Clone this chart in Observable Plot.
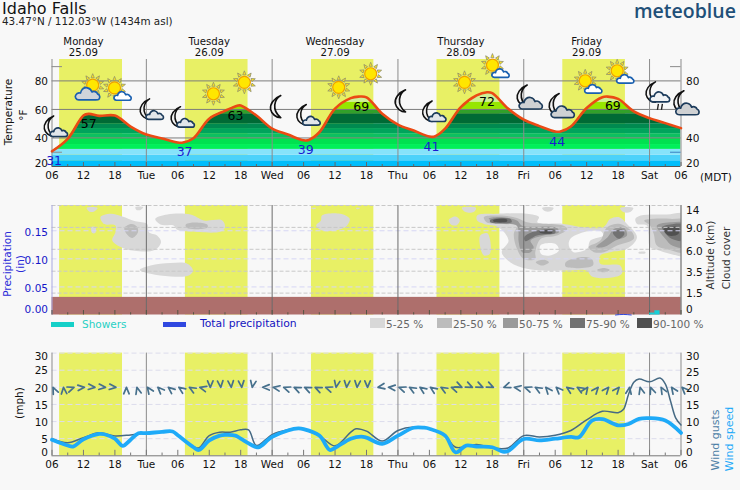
<!DOCTYPE html>
<html><head><meta charset="utf-8">
<script src="https://cdn.jsdelivr.net/npm/d3@7"></script>
<script src="https://cdn.jsdelivr.net/npm/@observablehq/plot@0.6"></script>
<style>
html,body{margin:0;padding:0;background:#f8f8f8;width:740px;height:490px;overflow:hidden;font-family:"DejaVu Sans",sans-serif}
.a{position:absolute;white-space:nowrap;line-height:1}
.r{position:absolute;white-space:nowrap;line-height:1;transform:translate(-50%,-50%) rotate(-90deg);font-size:10.5px}
svg{overflow:visible}
.s{position:absolute;height:10px;width:15px;top:318px}
</style></head><body>
<div id="root"></div>
<script>
// ---------- data ----------
const tempHours=[0,3,6,7,9,12,15,18,21,24,25,27,30,33,35.5,36,39,42,45,48,49,51,54,57,58.5,60,63,66,69,72,73,75,78,81,83,84,87,90,93,96,97,99,102,105,106,108,111,114,117,120];
const tempValues=[30.7,39.4,55.7,56.9,55.5,55.7,48,42.4,39.6,36.8,36.8,39.8,53.5,59,62.7,62.7,55.7,46.5,42.4,38.4,38.6,44,60.6,67.9,69,68.5,57,49.4,45.2,41,41,46.5,61.6,69.8,72,71.4,60.6,52.8,48.3,44.5,44.5,48,61,68.6,69,67.4,58.7,53.9,50.4,46.9];
const sunrise=[1.45,25.45,49.5,73.45,97.45];
const sunset=[13.45,37.4,61.4,85.45,109.4];
const bandLow=[20,24,28,32,35.4,39.8,43,46.6,50,57,60,65];
const bandHigh=[24,28,32,35.4,39.8,43,46.6,50,57,60,65,96];
const bandColor=["#00bdfb","#4cd2fa","#86e3fa","#00f05a","#00e150","#0cc060","#00a45c","#008a50","#006a35","#32a02a","#96e600","#cdf096"];
const maxHours=[7,35,59,83,107];
const maxTemps=[57,63,69,72,69];
const maxLabelY=[50.1,55.7,62,65.3,62.3];
const minHours=[0.4,25.3,48.4,72.4,96.4];
const minTemps=[31,37,39,41,44];
const minLabelY=[24.2,30,31.7,34,37.3];
const dayNames=["Monday","Tuesday","Wednesday","Thursday","Friday"];
const dayDates=["25.09","26.09","27.09","28.09","29.09"];
const dayNoon=[6,30,54,78,102];
const tickHours=d3.range(0,121,6);
const tickNames=["06","12","18","Tue","06","12","18","Wed","06","12","18","Thu","06","12","18","Fri","06","12","18","Sat","06"];
const midnightHours=[18,42,66,90,114];
const iconHours=[0.5,7,12.5,18.8,24.7,30.8,36.7,42.5,48.7,54.7,60.8,66.3,72.7,78.7,84.6,90.9,97,102.3,108.4,115.5,120.8];
const iconTemps=[47,73.5,73,59,53.5,71,79,62,55,75.5,85,66,57.5,79,89,68,62,78,85,69.5,64];
const iconKinds=["moonCloud","sunBigCloud","sunCloud","moonCloud","moonCloud","sun","sun","moon","moonCloud","sun","sun","moon","moonCloud","sun","sunCloud","moonBigCloud","moonBigCloud","sunCloud","sunCloud","moonRain","moonBigCloud"];
const cloudColors=["#d8d8d8","#bcbcbc","#9a9a9a","#727272","#505050","#f8f8f8"];
const cloudLabels=["5-25 %","25-50 %","50-75 %","75-90 %","90-100 %"];
const altitudeLabels=["0","1.5","3.5","6.0","9.0","14"];
const altitudeLevels=[0,1,2,3,4,5];
const altitudeShift=[-5,1,1,2,1,5];
const inchesPerLevel=0.039;
const precipTicks=[0.05,0.10,0.15];
const terrainTop=0.0314;
const showerStart=[114,115];
const showerEnd=[115,116];
const showerInches=[0.0035,0.0075];
const totalHours=[107.5,109,110.5];
const totalInches=[0,0.001,0];
// class index into cloudColors, then hour list, then level list
const cloudBlobs=[
[0,[9.25,11.2,13.4,15.9,18.15,18.5,20.05,20.8,19.7,16.6,13.4,11.5,12.1,12.1,9.9],[4.47,4.62,4.5,4.28,4.16,3.78,3.63,3.33,2.98,2.91,3.07,3.4,3.78,4.09,4.16]],
[1,[13.8,15.2,16.2,16.4,15.3,14.2],[3.98,4.16,4.04,3.78,3.52,3.71]],
[0,[6.6,8.7,7.95,7.2],[4.89,4.89,4.72,4.72]],
[0,[15.9,17.4,16.9,16.1],[4.92,4.92,4.8,4.8]],
[0,[7.5,8.3,8.25,7.7],[4.01,4.01,3.74,3.74]],
[0,[16.75,18.8,22.6,25.8,26.9,26.1,22.6,18.8],[2.06,2.26,2.37,2.34,2.03,1.8,1.76,1.88]],
[0,[19.7,22,26.4,29,32.5,33,32.2,26.4,23.9,23.2,20.7],[4.39,4.59,4.59,4.32,4.32,4.01,3.81,3.81,3.89,4.09,4.13]],
[1,[25.5,27,29.6,29.7,27.7,25.7],[4.12,4.22,4.13,4.01,3.92,3.98]],
[0,[49.4,50.4,50],[4.89,4.89,4.83]],
[0,[58,58.8,58.2],[4.89,4.89,4.83]],
[0,[51.5,55,56.8,56.3,54.7,51.5,50.4,51.3],[4.54,4.62,4.39,4.09,3.89,3.86,4.09,4.31]],
[0,[78.2,80.9,80.45,78.9],[4.89,4.89,4.7,4.7]],
[0,[75.7,77,77.8,77.1,76],[4.35,4.5,4.32,4.09,4.16]],
[0,[81.7,83,83.6,83.5,82.4,81.7],[3.63,3.74,3.4,2.79,2.72,3.1]],
[0,[81.1,85,90.6,92.9,92.6,97.6,101.4,105.2,106.5,108.1,109.7,111.6,109.7,106.5,104.6,104.6,108.4,108.7,106.5,103,102,98.3,93.8,90.6,87.4,85.8,87.1,85.2,82.4,81.1],[4.54,4.62,4.62,4.47,4.24,4.16,4.01,4.01,4.39,4.47,4.16,3.55,3.02,2.87,2.72,2.34,2.26,1.88,1.7,1.76,2.03,2.03,2.03,2.11,2.41,2.87,3.4,4.01,4.16,4.31]],
[5,[93.2,96,96.7,95,93.3],[3.18,3.25,2.95,2.72,2.79]],
[5,[98.9,101.4,104.6,105.2,102.7,102.1,99.5,98.6],[3.48,3.78,3.83,3.63,3.4,3.02,2.87,3.17]],
[1,[82.4,85.2,88.7,90.6,97.6,98.3,96.3,93.2,92.2,92.2,90,88.7,88.1,88.7,86.2,82.9],[4.47,4.54,4.43,4.24,4.08,3.93,3.63,3.47,2.87,2.56,2.56,3.02,3.7,4.08,4.16,4.24]],
[2,[83.3,85.2,88.7,89.7,96.3,96.7,93.8,91.3,91.9,91.3,89.7,89,89,88.7,85.9],[4.39,4.47,4.32,4.08,3.98,3.78,3.63,3.4,3.09,2.87,2.87,3.4,3.78,4.08,4.2]],
[3,[83.6,87.4,87.7,83.6],[4.34,4.39,4.24,4.24]],
[3,[92.2,96,96,92.5,90.3,90.1],[3.83,3.89,3.74,3.63,3.37,3.55]],
[4,[92.9,95.4,95.4,93.2],[3.83,3.86,3.75,3.74]],
[4,[84.2,86.8,86.8,84.2],[4.34,4.36,4.27,4.27]],
[1,[92.3,93.8,94.8,93.5],[2.41,2.52,2.41,2.26]],
[1,[98,100.8,103,103.2,98],[2.41,2.64,2.56,2.26,2.21]],
[1,[104,105.3,106.4,105.3],[2.06,2.15,2.06,1.95]],
[1,[102.4,104.6,105.9,108.4,110.7,111,107.8,105.3,103.4],[3.1,3.4,4.01,4.16,3.78,3.48,3.17,2.87,2.87]],
[2,[103.8,106,107.2,109.1,109.7,107.5,105.3],[3.1,3.55,3.93,3.98,3.63,3.4,3.1]],
[3,[107,108.8,109.2,108.1],[3.78,3.89,3.7,3.48]],
[0,[108.4,110.9,110.3,109],[4.89,4.89,4.7,4.7]],
[0,[93.5,95.7,95.1,94.1],[4.89,4.89,4.74,4.74]],
[0,[111.9,113.2,113.2,111.9],[2.87,2.88,2.82,2.82]],
[0,[111.3,112.3,117.3,121,121,118,115.4,114.1,113.8,113.5,111.6],[4.39,4.54,4.59,4.59,2.72,2.79,2.98,3.09,3.7,4.09,4.16]],
[1,[113,114.8,118,121,121,117.7,115.4,114.8,114.1],[4.31,4.39,4.39,4.31,2.87,2.98,3.17,3.7,4.09]],
[2,[115.4,118.3,121,121,118.3,117,116],[4.09,4.24,4.16,3.1,3.17,3.48,3.78]],
[3,[116.4,118.6,121,121,118.2,116.9],[4.01,4.16,4.09,3.4,3.48,3.78]],
[4,[116.7,119.5,119.5,117.6],[3.93,4.01,3.7,3.63]]
];
const speedHours=[0,3,4,6,9,10,12,13.5,15,16.5,18,21,23,24,27,28,30,32,33,35,36,39,39.5,42,45,47,48,51,53,54,57,59,60,63,66,69,71,72,75,77,79,81,84,86,87,90,93,96,99,100.5,103,105,108,110,112,114,117,120];
const speedValues=[4.7,3,2.7,4.8,6.4,6.3,5,2.9,4.7,6.6,6.6,7,7.1,6,2.5,1.7,4.5,5.9,6.1,5.9,5,2.5,2.5,5.5,7.4,8,7.8,5.9,1.7,2.3,5,5.6,5.3,3.5,5.9,8.2,8.2,7.9,5.9,1,3,2.7,2.5,1.2,1.4,4.9,4.5,5,5.5,5.4,10.3,10.7,8.9,9.3,10.8,11,10.3,6.7];
const gustHours=[0,3,6,9,12,15,18,21,23,24,27,28,30,32,34,36,37.5,39,42,45,47,51,54,57,58,60,63,66,69,72,75,77,81,84,87,90,93,96,99,102,105,108,109,110,111,112,114,116,117,118,119,120];
const gustValues=[5,3.8,5.3,6.7,5.8,6.1,6.6,7,7.1,6,2.7,2.3,5.9,6.9,6.9,7.6,7.6,3,6.2,7.6,8,5.9,2.9,6.9,7.9,7.2,4.3,7.4,8.4,7.9,5.9,2.5,3.3,2.3,2.3,5.9,5.5,6,7.4,10.5,13,12.6,13.5,18,21.5,22.4,21.6,22.7,21,16,11,9];
const windRotate=[-25,-5,70,85,95,95,95,0,-15,-35,-45,-50,-55,-60,-75,180,175,175,175,190,-90,-80,-70,-65,-65,-65,-70,190,185,185,180,-100,-85,-70,-60,-55,-55,-60,-70,115,115,115,115,-110,-80,-70,-60,-40,-45,-55,-60,35,40,40,40,10,-15,-20,-30,-35,-45];
const windHours=windRotate.map((_,k)=>0.2+2*k);
const windLevel=20;
const mphTicks=[5,10,15,20,25,30];

// ---------- shared helpers ----------
const rows=(...a)=>a[0].map((_,i)=>a.map(c=>c[i]));
const X={type:"linear",domain:[0,120],axis:null};
const base={width:740,marginLeft:51.5,marginRight:59.5,style:{background:"transparent",fontFamily:"DejaVu Sans",fontSize:"10.5px",color:"#111"},color:{type:"identity"}};
const GRAY="#8b8b8b";
const SMOOTH="catmull-rom";
const dayRects=(y1,y2)=>Plot.rect(rows(sunrise,sunset),{x1:d=>d[0],x2:d=>d[1],y1,y2,fill:"#e8f065"});
const miniTicks=(y0,y3,y6,stroke)=>[
  Plot.ruleX(d3.range(3,120,6),{y1:y0,y2:y3,stroke,strokeWidth:1}),
  Plot.ruleX(tickHours,{y1:y0,y2:y6,stroke,strokeWidth:1})];
const vLines=(stroke,w)=>Plot.ruleX(midnightHours,{stroke,strokeWidth:w});
const edges=Plot.ruleX([0,120],{stroke:GRAY,strokeWidth:1});
const xAxis=Plot.axisX({ticks:tickHours,tickFormat:h=>tickNames[h/6],tickSize:0,tickPadding:5,label:null,fontSize:10.5});
const yAx=(ticks,anchor,dy,extra={})=>Plot.axisY({ticks,anchor,tickSize:0,tickPadding:anchor==="left"?4:5,label:null,dy,fontSize:10.5,...extra});

// ---------- weather icons ----------
function rays(cx,cy){let s="";for(let i=0;i<10;i++){const a=i*36;s+=`<polygon transform="rotate(${a} ${cx} ${cy})" points="${cx-1.6},${cy-7.5} ${cx+1.6},${cy-7.5} ${cx},${cy-11.5}" fill="#ffe61e" stroke="#8a8a70" stroke-width=".7"/>`}return s}
const sunG=(cx,cy)=>rays(cx,cy)+`<circle cx="${cx}" cy="${cy}" r="6" fill="#ffe600" stroke="#f0a000" stroke-width="1.2"/>`;
const moonG=(dx,dy,k=1)=>`<path transform="translate(${dx} ${dy}) scale(${k})" d="M13 0C5 3 1 10 2 15c1 5 6 9 11 9C8 20 6 15 6.500 10 7 6 9.500 2 13 0Z" fill="#f2f2f2" stroke="#111" stroke-width="1.8" stroke-linejoin="round"/>`;
const cloudG=(dx,dy,k,fill,stroke)=>`<path transform="translate(${dx} ${dy}) scale(${k})" d="M4 14C1 14 0 11 1 9.500 2 7.500 4 7 5.500 7.500 6 4 9 2 12 2.500 15 3 16 5 16.500 6.500 18 5.500 21 6 22 8.500 24 9 24.500 12 23 13.500 22.500 14 21 14 20 14Z" fill="${fill}" stroke="${stroke}" stroke-width="${1.7/k}" stroke-linejoin="round"/>`;
const icons={
 sun:sunG(18,18),
 moon:moonG(12,7,.92),
 moonCloud:moonG(6,6,.85)+cloudG(13,16,.75,"#e2e6ea","#1d3c5c"),
 moonBigCloud:moonG(5,5,.9)+cloudG(8,15,1,"#cfd1d3","#1d3c5c"),
 moonRain:moonG(5,4,.85)+cloudG(10,12,.85,"#f0f2f4","#1d3c5c")+`<path d="M19 26l-1 6M23 26l-1 6" stroke="#222" stroke-width="1.4"/>`,
 sunCloud:sunG(15,15)+cloudG(14,17,.74,"#fff","#1a60b0"),
 sunBigCloud:sunG(22,13)+cloudG(4,13,1.05,"#cfd4da","#1a60b0")
};
const iconUrl=k=>"data:image/svg+xml,"+encodeURIComponent(`<svg xmlns="http://www.w3.org/2000/svg" width="36" height="36" viewBox="0 0 36 36">${icons[k]}</svg>`);

// ---------- temperature panel ----------
const tempPts=rows(tempHours,tempValues);
const bandClip=(i,s,v,d,c,next)=>{const g=next(i,s,v,d,c);g.setAttribute("clip-path","url(#tempClip)");return g};
const clipMaker=(i,s,v,d,c,next)=>{const g=next(i,s,v,d,c);const cp=document.createElementNS("http://www.w3.org/2000/svg","clipPath");cp.setAttribute("id","tempClip");g.querySelectorAll("path").forEach(p=>cp.appendChild(p));g.appendChild(cp);return g};
const p1=Plot.plot({...base,height:160,marginTop:34,marginBottom:19,x:X,y:{domain:[20,95],axis:null},marks:[
  dayRects(20,95),
  Plot.area(tempPts,{x1:d=>d[0],y1:20,y2:d=>d[1],curve:SMOOTH,render:clipMaker}),
  Plot.rect(rows(bandLow,bandHigh,bandColor),{x1:0,x2:120,y1:d=>d[0],y2:d=>d[1],fill:d=>d[2],render:bandClip}),
  Plot.ruleY([40,60,80],{stroke:"#7c7c7c",strokeWidth:1}),
  vLines(GRAY,1),edges,
  Plot.ruleY([90,30],{x1:0,x2:2,stroke:GRAY}),
  Plot.ruleY([90],{x1:118,x2:120,stroke:GRAY}),
  Plot.ruleY([30],{x1:118,x2:120,stroke:"#3a80c0"}),
  ...miniTicks(20,21.4,22.8,"#666"),
  Plot.ruleY([20],{stroke:"#555",strokeWidth:1}),
  Plot.line(tempPts,{x:d=>d[0],y:d=>d[1],curve:SMOOTH,stroke:"#eb4a14",strokeWidth:2.6}),
  Plot.text(rows(maxHours,maxTemps,maxLabelY),{x:d=>d[0],y:d=>d[2],text:d=>String(d[1]),fill:"#000",fontSize:12.5}),
  Plot.text(rows(minHours,minTemps,minLabelY),{x:d=>d[0],y:d=>d[2],text:d=>String(d[1]),fill:"#1a1ad0",fontSize:12.5}),
  Plot.image(rows(iconHours,iconTemps,iconKinds),{x:d=>d[0],y:d=>d[1],src:d=>iconUrl(d[2]),width:36,height:36}),
  Plot.text(rows(dayNoon,dayNames),{x:d=>d[0],frameAnchor:"top",dy:-21.500,text:d=>d[1],fontSize:10.2,fill:"#111"}),
  Plot.text(rows(dayNoon,dayDates),{x:d=>d[0],frameAnchor:"top",dy:-11,text:d=>d[1],fontSize:10.2,fill:"#111"}),
  xAxis,
  yAx([40,60,80],"left",1),yAx([20],"left",-3),
  yAx([40,80],"right",1),yAx([20],"right",-3)
]});

// ---------- precipitation / cloud panel ----------
const lv=l=>l*inchesPerLevel;
const blobMarks=cloudBlobs.map(b=>Plot.line(rows(b[1],b[2]),{x:d=>d[0],y:d=>lv(d[1]),fill:cloudColors[b[0]],stroke:"none",curve:"catmull-rom-closed",clip:true}));
const altRows=rows(altitudeLevels,altitudeLabels,altitudeShift);
const p2=Plot.plot({...base,height:125,marginTop:10,marginBottom:5.5,x:X,y:{domain:[0,lv(5)],axis:null},marks:[
  dayRects(0,lv(5)),
  ...blobMarks,
  Plot.ruleY(altitudeLevels.slice(1),{y:lv,stroke:"#c8c8c8",strokeDasharray:"4,2"}),
  Plot.ruleY(precipTicks,{stroke:"#d6d6f4",strokeDasharray:"5,3"}),
  Plot.rect([terrainTop],{x1:0,x2:120,y1:0,y2:d=>d,fill:"#ae6f6c"}),
  vLines("#6c6c6c",1),
  Plot.ruleX([0],{stroke:"#a8a8e0"}),Plot.ruleX([120],{stroke:"#555"}),
  ...miniTicks(0,0.004,0.008,"#554"),
  Plot.line(rows(totalHours,totalInches),{x:d=>d[0],y:d=>d[1],stroke:"#3048e0",strokeWidth:1,curve:"monotone-x"}),
  Plot.rect(rows(showerStart,showerEnd,showerInches),{x1:d=>d[0],x2:d=>d[1],y1:0,y2:d=>d[2],fill:"#16d0d8"}),
  yAx(precipTicks,"left",2,{tickFormat:d=>d.toFixed(2),fill:"#1616c8"}),
  yAx([0],"left",-5,{tickFormat:d=>d.toFixed(2),fill:"#1616c8"}),
  ...altRows.map(r=>Plot.text([r],{y:d=>lv(d[0]),text:d=>d[1],frameAnchor:"right",textAnchor:"start",dx:5,dy:r[2],fontSize:10.5,fill:"#111"}))
]});

// ---------- wind panel ----------
const chevron={draw(c,l){const w=l*.42;c.moveTo(-w,l*.5);c.lineTo(0,-l*.5);c.lineTo(w,l*.5)}};
const p3=Plot.plot({...base,height:135,marginTop:12.6,marginBottom:19.7,x:X,y:{domain:[0,30],axis:null},marks:[
  dayRects(0,30),
  Plot.ruleY(mphTicks,{stroke:"#dcdcec",strokeDasharray:"5,3"}),
  vLines(GRAY,1),edges,
  ...miniTicks(0,0.8,1.6,"#777"),
  Plot.ruleY([0],{stroke:"#777"}),
  Plot.line(rows(gustHours,gustValues),{x:d=>d[0],y:d=>d[1],curve:SMOOTH,stroke:"#466a84",strokeWidth:1.5}),
  Plot.line(rows(speedHours,speedValues),{x:d=>d[0],y:d=>d[1],curve:SMOOTH,stroke:"#1eaaf8",strokeWidth:3.8}),
  Plot.vector(rows(windHours,windRotate),{x:d=>d[0],y:windLevel,rotate:d=>d[1],length:6.5,anchor:"middle",shape:chevron,stroke:"#46708c",strokeWidth:1.7}),
  xAxis,
  yAx([5,10,15,20],"left",1),yAx([25],"left",0),yAx([30],"left",4),yAx([0],"left",-3),
  yAx([5,10,15,20],"right",1),yAx([25],"right",2),yAx([30],"right",4),yAx([0],"right",-3)
]});

// ---------- page assembly ----------
const root=document.getElementById("root");
const put=(el,top)=>{el.style.position="absolute";el.style.left="0";el.style.top=top+"px";root.appendChild(el)};
put(p1,25);put(p2,195);put(p3,340);
const add=(cls,txt,css)=>{const d=document.createElement("div");d.className=cls;d.textContent=txt;d.style.cssText+=css;root.appendChild(d);return d};
add("a","Idaho Falls","left:2px;top:1px;font-size:16px;color:#111");
add("a","43.47°N / 112.03°W (1434m asl)","left:2px;top:16px;font-size:10.4px;color:#222");
add("a","meteoblue","left:634px;top:1px;font-family:'Open Sans';font-weight:600;font-size:19.5px;color:#1f5078");
add("a","(MDT)","left:700px;top:172px;font-size:10.5px;color:#111");
add("r","Temperature","left:8px;top:112px;color:#111");
add("r","°F","left:23px;top:115px;color:#111");
add("r","Precipitation","left:7px;top:264px;color:#2a2ad8");
add("r","(in)","left:20px;top:264px;color:#2a2ad8");
add("r","Altitude (km)","left:710px;top:255px;color:#333");
add("r","Cloud cover","left:726px;top:258px;color:#333");
add("r","(mph)","left:19px;top:403px;color:#111");
add("r","Wind gusts","left:715px;top:440px;color:#4d7fa6;font-size:11px");
add("r","Wind speed","left:729px;top:439px;color:#1eaaf8;font-size:11px");
add("s","","left:51px;top:322px;width:23px;height:5px;background:#16d0c8");
add("a","Showers","left:82px;top:319px;font-size:10.5px;color:#28d0c4");
add("s","","left:163px;top:322px;width:23px;height:5px;background:#3048e0");
add("a","Total precipitation","left:200px;top:319px;font-size:10.8px;color:#1414c0");
const lx=[370,437,503,570,637];
cloudLabels.forEach((t,i)=>{add("s","",`left:${lx[i]}px;background:${cloudColors[i]}`);add("a",t,`left:${lx[i]+16}px;top:319px;font-size:10.5px;color:#666`)});
</script></body></html>
